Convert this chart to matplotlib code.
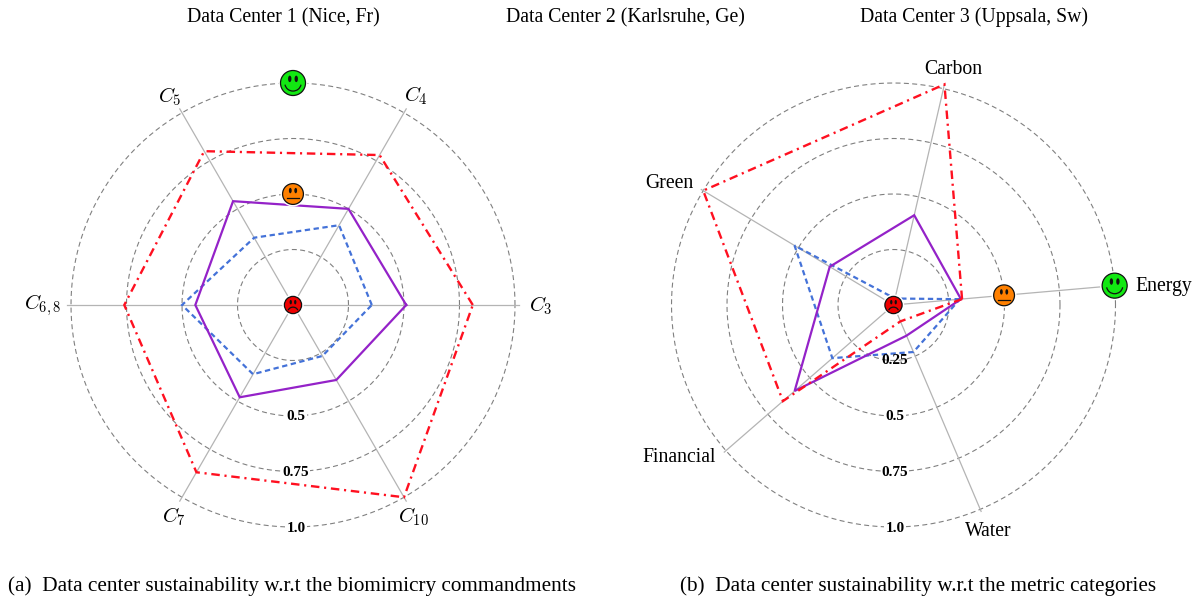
import numpy as np
import matplotlib
matplotlib.use("Agg")
import matplotlib.pyplot as plt
from matplotlib.offsetbox import AnnotationBbox, DrawingArea
from matplotlib.patches import Circle, Ellipse, Arc
from matplotlib.lines import Line2D

plt.rcParams['font.family'] = ['Liberation Serif', 'DejaVu Serif']
plt.rcParams['mathtext.fontset'] = 'cm'

# ---- data ----
commandments = ["C3", "C4", "C5", "C6,8", "C7", "C10"]
dc1_cmd = [0.81, 0.78, 0.80, 0.76, 0.87, 1.00]   # red dash-dot
dc2_cmd = [0.355, 0.415, 0.35, 0.50, 0.36, 0.265]  # blue dashed
dc3_cmd = [0.51, 0.50, 0.54, 0.44, 0.48, 0.39]   # purple solid

categories = ["Energy", "Carbon", "Green", "Financial", "Water"]
dc1_cat = [0.31, 1.02, 1.00, 0.66, 0.08]
dc2_cat = [0.30, 0.03, 0.52, 0.365, 0.23]
dc3_cat = [0.305, 0.415, 0.335, 0.59, 0.15]

ring_levels = [0.25, 0.5, 0.75, 1.0]
titles = ["Data Center 1 (Nice, Fr)", "Data Center 2 (Karlsruhe, Ge)", "Data Center 3 (Uppsala, Sw)"]
caption_a = "(a)  Data center sustainability w.r.t the biomimicry commandments"
caption_b = "(b)  Data center sustainability w.r.t the metric categories"

W, H = 1200, 599
RADIUS = 222
fig = plt.figure(figsize=(W / 100, H / 100), dpi=100)


def px(x, y):
    return x / W, 1 - y / H


def polar_axes(cx, cy):
    ax = fig.add_axes([(cx - RADIUS) / W, 1 - (cy + RADIUS) / H, 2 * RADIUS / W, 2 * RADIUS / H],
                      projection='polar')
    ax.set_ylim(0, 1.0)
    ax.axis('off')
    ax.patch.set_alpha(0)
    return ax


def smiley(ax, theta, r, radius, color, mood):
    d = radius * 2 + 6
    da = DrawingArea(d, d, 0, 0)
    c = d / 2
    lw = 0.9
    da.add_artist(Circle((c, c), radius + 1.5, fc='white', ec='none'))
    da.add_artist(Circle((c, c), radius, fc=color, ec='#111111', lw=lw))
    ex = radius * 0.26
    ey = radius * 0.33
    for sx in (-1, 1):
        da.add_artist(Ellipse((c + sx * ex, c + ey), radius * 0.27, radius * 0.52, fc='#111111', ec='none'))
    if mood == 'happy':
        da.add_artist(Arc((c, c - radius * 0.02), radius * 1.3, radius * 1.25, theta1=190, theta2=350,
                          ec='#111111', lw=lw))
    elif mood == 'neutral':
        da.add_artist(Line2D([c - radius * 0.58, c + radius * 0.58], [c - radius * 0.42] * 2,
                             color='#111111', lw=lw))
    else:
        da.add_artist(Arc((c, c - radius * 0.8), radius * 1.2, radius * 1.1, theta1=20, theta2=160,
                          ec='#111111', lw=lw))
    ab = AnnotationBbox(da, (theta, r), xycoords='data', frameon=False, pad=0,
                        box_alignment=(0.5, 0.5), annotation_clip=False, zorder=20)
    ax.add_artist(ab)


def radar(ax, angles_deg, red, blue, purple, spoke_len):
    angles = np.deg2rad(angles_deg)
    t = np.linspace(0, 2 * np.pi, 361)
    for lev in ring_levels:
        ax.plot(t, np.full_like(t, lev), color='#808080', lw=0.8, ls=(0, (4.5, 3)), zorder=1, clip_on=False)
    for a in angles:
        ax.plot([a, a], [0, spoke_len], color='#b4b4b4', lw=0.9, zorder=2, clip_on=False)
    ca = np.append(angles, angles[0])
    ax.plot(ca, np.append(blue, blue[0]), color='#4472d8', lw=1.6, ls=(0, (2.4, 1.6)),
            dash_joinstyle='miter', zorder=4, clip_on=False)
    ax.plot(ca, np.append(purple, purple[0]), color='#9422c8', lw=1.6, zorder=5,
            solid_joinstyle='miter', clip_on=False)
    ax.plot(ca, np.append(red, red[0]), color='#ff1020', lw=1.7, ls=(0, (3.6, 2.0, 0.9, 2.0)),
            dash_joinstyle='miter', zorder=6, clip_on=False)


# left panel
ax1 = polar_axes(293, 305)
ang1 = [0, 60, 120, 180, 240, 300]
radar(ax1, ang1, dc1_cmd, dc2_cmd, dc3_cmd, 1.02)
smiley(ax1, np.pi / 2, 1.0, 9.0, '#12e812', 'happy')
smiley(ax1, np.pi / 2, 0.5, 7.5, '#ff8000', 'neutral')
smiley(ax1, 0, 0, 6.2, '#ee0000', 'sad')

# right panel
ax2 = polar_axes(893.5, 305)
ang2 = [5, 77, 149, 221, 293]
radar(ax2, ang2, dc1_cat, dc2_cat, dc3_cat, 1.01)
e = np.deg2rad(5)
smiley(ax2, e, 1.0, 9.0, '#12e812', 'happy')
smiley(ax2, e, 0.5, 7.5, '#ff8000', 'neutral')
smiley(ax2, 0, 0, 6.2, '#ee0000', 'sad')

# titles
for s, x in zip(titles, [283, 625.5, 974]):
    fig.text(*px(x, 22), s, ha='center', va='baseline', fontsize=14.2)

# captions
fig.text(*px(8, 590.5), caption_a, ha='left', va='baseline', fontsize=15.27)
fig.text(*px(680, 590.5), caption_b, ha='left', va='baseline', fontsize=15.27)

# commandment labels
math_labels = [r"$C_{3}$", r"$C_{4}$", r"$C_{5}$", r"$C_{6,8}$", r"$C_{7}$", r"$C_{10}$"]
math_pos = [(541, 306), (416, 96), (170, 97), (43, 305), (174, 517), (413, 517)]
for s, (x, y) in zip(math_labels, math_pos):
    fig.text(*px(x, y), s, ha='center', va='center', fontsize=15)

# category labels
cat_pos = [(1163.5, 286), (953, 70), (669.5, 184), (679.5, 457), (988, 532)]
for s, (x, y) in zip(categories, cat_pos):
    fig.text(*px(x, y), s, ha='center', va='center', fontsize=14.2)

# ring value labels
bbox = dict(fc='white', ec='none', pad=0.8)
for s, x, y in [("0.5", 296, 416), ("0.75", 296, 472), ("1.0", 296, 528),
                ("0.25", 895, 361), ("0.5", 895, 416), ("0.75", 895, 472), ("1.0", 895, 528)]:
    fig.text(*px(x, y), s, ha='center', va='center', fontsize=11, fontweight='bold',
             bbox=None if s == "0.25" else bbox, zorder=10)

fig.savefig("out.png", dpi=100, facecolor='white')
